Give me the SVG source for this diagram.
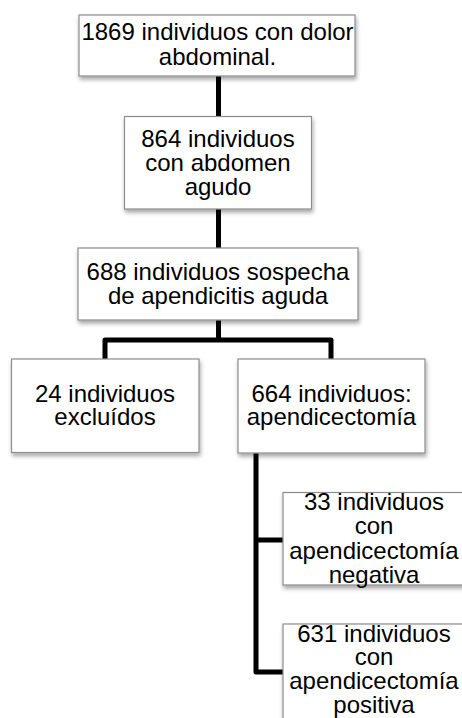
<svg xmlns="http://www.w3.org/2000/svg" width="462" height="718" viewBox="0 0 462 718">
<defs>
<filter id="sh" x="-10%" y="-10%" width="130%" height="140%">
<feDropShadow dx="1" dy="3" stdDeviation="2" flood-color="#000" flood-opacity="0.35"/>
</filter>
</defs>
<style>
.box{fill:#fff;stroke:#8c8c8c;stroke-width:1.2;filter:url(#sh)}
.t{font-family:"Liberation Sans",Arial,sans-serif;font-size:24px;fill:#000;text-anchor:middle}
.c{fill:none;stroke:#000;stroke-width:5;stroke-linejoin:round}
</style>
<rect width="462" height="718" fill="#fff"/>
<g id="connectors">
<line class="c" x1="218.5" y1="76" x2="218.5" y2="117"/>
<line class="c" x1="218.5" y1="209" x2="218.5" y2="248"/>
<path class="c" d="M218.5 320 V340 M105 359 V340 H331 V359"/>
<path class="c" d="M256 453 V672 H283 M256 540 H283"/>
</g>
<g id="n1">
<rect class="box" x="79" y="15" width="276" height="61"/>
<text class="t" x="217.5" y="40">1869 individuos con dolor</text>
<text class="t" x="217.5" y="65">abdominal.</text>
</g>
<g id="n2">
<rect class="box" x="124.5" y="116.5" width="187" height="92.5"/>
<text class="t" x="218" y="146.5">864 individuos</text>
<text class="t" x="218" y="170.5">con abdomen</text>
<text class="t" x="218" y="194.5">agudo</text>
</g>
<g id="n3">
<rect class="box" x="78" y="248" width="280" height="72"/>
<text class="t" x="218" y="279.5">688 individuos sospecha</text>
<text class="t" x="218" y="303.5">de apendicitis aguda</text>
</g>
<g id="n4">
<rect class="box" x="11.5" y="359" width="187.5" height="93.5"/>
<text class="t" x="105" y="401.5">24 individuos</text>
<text class="t" x="105" y="425">excluídos</text>
</g>
<g id="n5">
<rect class="box" x="238" y="359" width="187" height="94"/>
<text class="t" x="331.5" y="401.5">664 individuos:</text>
<text class="t" x="331.5" y="425">apendicectomía</text>
</g>
<g id="n6">
<rect class="box" x="283" y="492.5" width="187" height="92.5"/>
<text class="t" x="374" y="510">33 individuos</text>
<text class="t" x="374" y="534">con</text>
<text class="t" x="374" y="558.5">apendicectomía</text>
<text class="t" x="374" y="582.5">negativa</text>
</g>
<g id="n7">
<rect class="box" x="283" y="624" width="187" height="100"/>
<text class="t" x="374" y="641.5">631 individuos</text>
<text class="t" x="374" y="665">con</text>
<text class="t" x="374" y="689">apendicectomía</text>
<text class="t" x="374" y="713">positiva</text>
</g>
</svg>
